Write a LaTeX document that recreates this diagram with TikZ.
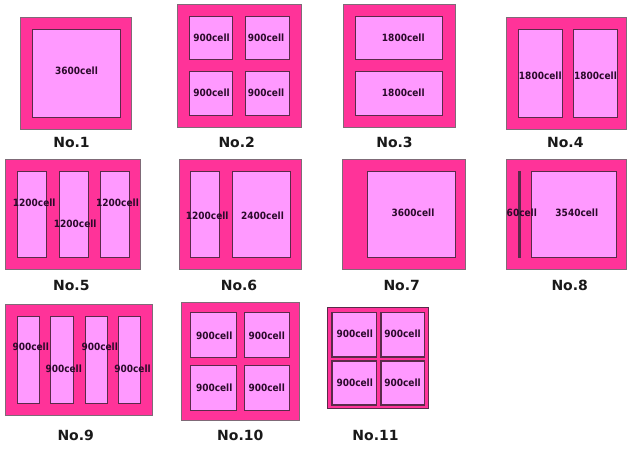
\documentclass[tikz,border=0pt]{standalone}
\usepackage{fontspec}
\newfontfamily\cellfont[FakeStretch=0.9]{DejaVu Sans Bold}
\newfontfamily\labfont{DejaVu Sans Bold}
\definecolor{hotpk}{HTML}{FF3399}
\definecolor{lightpk}{HTML}{FF99FF}
\definecolor{cellline}{HTML}{5A2A4A}
\definecolor{outline}{HTML}{7F6A77}
\definecolor{celltxt}{HTML}{2A0A2A}
\tikzset{
  outerbox/.style={fill=hotpk, draw=outline, line width=0.8pt},
  cellbox/.style={fill=lightpk, draw=cellline, line width=0.9pt},
  thickcell/.style={fill=lightpk, draw=cellline, line width=1.6pt},
  bar/.style={draw=cellline, line width=2.4pt},
  ctext/.style={font=\cellfont\fontsize{10}{12}\selectfont, text=celltxt, inner sep=0pt, anchor=base},
  ltext/.style={font=\labfont\fontsize{14}{16}\selectfont, text=black!90, inner sep=0pt, anchor=base},
}
\newcommand\ct[4]{\node[ctext] (#1) at (#2,#3+3.6) {#4};}
\begin{document}
\begin{tikzpicture}[x=1pt,y=-1pt]
\useasboundingbox (0,0) rectangle (627,448);
% No.1
\draw[outerbox] (20.7,17.3) rectangle (131.7,129);
\draw[cellbox] (32.3,29.3) rectangle (120,117.3);
\ct{t1}{76.5}{71}{3600cell}
\node[ltext] (l1) at (71.5,147) {No.1};
% No.2
\draw[outerbox] (177,4) rectangle (301,127.7);
\draw[cellbox] (189.3,16) rectangle (232.7,59.3);
\draw[cellbox] (245.7,16) rectangle (289,59.3);
\draw[cellbox] (189.3,71.7) rectangle (232.7,115);
\draw[cellbox] (245.7,71.7) rectangle (289,115);
\ct{t2a}{211.5}{37.7}{900cell}
\ct{t2b}{266}{37.7}{900cell}
\ct{t2c}{211.5}{92.7}{900cell}
\ct{t2d}{266}{92.7}{900cell}
\node[ltext] (l2) at (236.7,147) {No.2};
% No.3
\draw[outerbox] (343.3,4) rectangle (455,127.3);
\draw[cellbox] (355.3,16) rectangle (442.7,59.3);
\draw[cellbox] (355.3,71.7) rectangle (442.7,115);
\ct{t3a}{403.3}{38.3}{1800cell}
\ct{t3b}{403.3}{93.3}{1800cell}
\node[ltext] (l3) at (394.5,147) {No.3};
% No.4
\draw[outerbox] (506,17.3) rectangle (626.6,129);
\draw[cellbox] (518.3,29.3) rectangle (562,117.3);
\draw[cellbox] (573.3,29.3) rectangle (617.3,117.3);
\ct{t4a}{540.3}{75.7}{1800cell}
\ct{t4b}{595.5}{75.7}{1800cell}
\node[ltext] (l4) at (565.3,147) {No.4};
% No.5
\draw[outerbox] (5,159) rectangle (140.7,269.3);
\draw[cellbox] (17.3,171) rectangle (46.3,257.7);
\draw[cellbox] (59.3,171) rectangle (88.3,257.7);
\draw[cellbox] (100.7,171) rectangle (129.3,257.7);
\ct{t5a}{34.2}{202.7}{1200cell}
\ct{t5b}{75.2}{224}{1200cell}
\ct{t5c}{117.5}{202.7}{1200cell}
\node[ltext] (l5) at (71.3,290) {No.5};
% No.6
\draw[outerbox] (179,159) rectangle (301.7,269.3);
\draw[cellbox] (190.3,171) rectangle (219.3,257.7);
\draw[cellbox] (232.3,171) rectangle (290.7,257.7);
\ct{t6a}{207.2}{215.7}{1200cell}
\ct{t6b}{262.5}{215.7}{2400cell}
\node[ltext] (l6) at (239,290) {No.6};
% No.7
\draw[outerbox] (342.3,159) rectangle (465.7,269.3);
\draw[cellbox] (367.7,171) rectangle (455,257.7);
\ct{t7}{413}{212.7}{3600cell}
\node[ltext] (l7) at (401.7,290) {No.7};
% No.8
\draw[outerbox] (506.7,159) rectangle (626.6,269.3);
\draw[bar] (519.5,171) -- (519.5,258.3);
\draw[cellbox] (531.3,171) rectangle (616.7,257.7);
\ct{t8a}{521.8}{212.7}{60cell}
\ct{t8b}{576.8}{212.7}{3540cell}
\node[ltext] (l8) at (569.7,290) {No.8};
% No.9
\draw[outerbox] (5,304) rectangle (152.7,415);
\draw[cellbox] (17.3,316) rectangle (39.3,403.3);
\draw[cellbox] (50.7,316) rectangle (73,403.3);
\draw[cellbox] (85.7,316) rectangle (107.3,403.3);
\draw[cellbox] (118.3,316) rectangle (140.7,403.3);
\ct{t9a}{30.7}{346.7}{900cell}
\ct{t9b}{63.7}{369.3}{900cell}
\ct{t9c}{99.7}{346.7}{900cell}
\ct{t9d}{132.5}{369.3}{900cell}
\node[ltext] (l9) at (75.7,440.7) {No.9};
% No.10
\draw[outerbox] (181.7,302.3) rectangle (299,420.7);
\draw[cellbox] (190.7,312.3) rectangle (236,357.3);
\draw[cellbox] (244.3,312.3) rectangle (289.3,357.3);
\draw[cellbox] (190.7,365.7) rectangle (236,410.7);
\draw[cellbox] (244.3,365.7) rectangle (289.3,410.7);
\ct{t10a}{214.2}{335.7}{900cell}
\ct{t10b}{266.7}{335.7}{900cell}
\ct{t10c}{214.2}{388.3}{900cell}
\ct{t10d}{266.7}{388.3}{900cell}
\node[ltext] (l10) at (240.3,440.7) {No.10};
% No.11
\draw[outerbox, draw=cellline, line width=1.2pt] (327.3,307.7) rectangle (428.3,408.3);
\draw[thickcell] (332,312.3) rectangle (376.3,356.7);
\draw[thickcell] (380.7,312.3) rectangle (424.3,356.7);
\draw[thickcell] (332,361) rectangle (376.3,405);
\draw[thickcell] (380.7,361) rectangle (424.3,405);
\ct{t11a}{354.7}{334.3}{900cell}
\ct{t11b}{402.5}{334.3}{900cell}
\ct{t11c}{354.7}{383.3}{900cell}
\ct{t11d}{402.5}{383.3}{900cell}
\node[ltext] (l11) at (375.5,440.7) {No.11};
\end{tikzpicture}
\end{document}
